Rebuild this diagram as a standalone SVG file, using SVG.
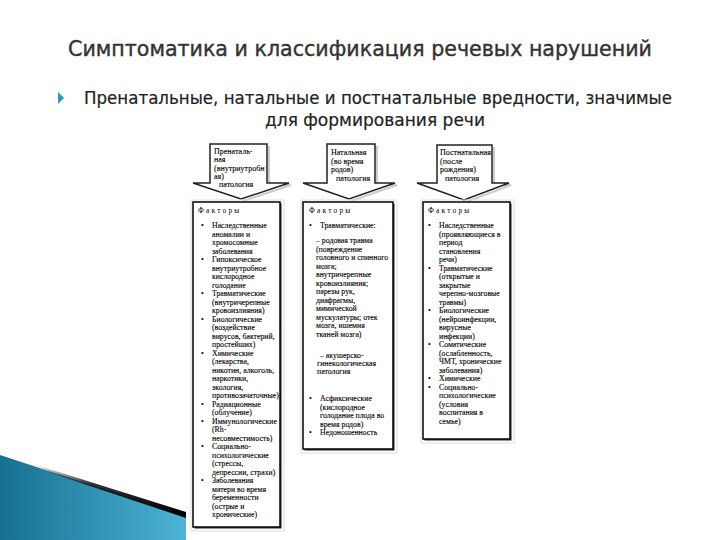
<svg xmlns="http://www.w3.org/2000/svg" width="720" height="540" viewBox="0 0 720 540">
<style>
.t{font-family:"Liberation Serif","Times New Roman",serif;font-size:7.8px;fill:#000;stroke:#000;stroke-width:0.12}
.h{font-family:"Liberation Serif","Times New Roman",serif;font-size:8px;fill:#000;stroke:#000;stroke-width:0.12}
.f{font-family:"Liberation Serif","Times New Roman",serif;font-size:7.4px;fill:#000;letter-spacing:2.2px}
.box{fill:#fff;stroke:#111;stroke-width:1.6}
.sh{fill:#222}
.halo{fill:none;stroke:#ddd;stroke-width:1}
.arr{fill:#fff;stroke:#222;stroke-width:1.5;stroke-linejoin:miter}
.arrsh{fill:none;stroke:#ccc;stroke-width:2}
</style>
<defs>
<linearGradient id="blue" x1="0" y1="0" x2="1" y2="0">
<stop offset="0" stop-color="#16708f"/>
<stop offset="1" stop-color="#4db3d6"/>
</linearGradient>
<linearGradient id="blk" x1="0" y1="0" x2="1" y2="0">
<stop offset="0" stop-color="#000" stop-opacity="0"/>
<stop offset="0.4" stop-color="#000" stop-opacity="0.8"/>
<stop offset="1" stop-color="#000"/>
</linearGradient>
</defs>
<rect width="720" height="540" fill="#fff"/>
<g id="decor">
<polygon points="0,455 186,516 186,540 0,540" fill="url(#blue)"/>
<polygon points="30,463 186,512 186,518 60,476" fill="url(#blk)"/>
</g>
<g id="title">
<text x="360" y="56" text-anchor="middle" font-family="DejaVu Sans, sans-serif" font-size="21" fill="#333" stroke="#333" stroke-width="0.4" textLength="584" lengthAdjust="spacingAndGlyphs">Симптоматика и классификация речевых нарушений</text>
</g>
<g id="subtitle">
<polygon points="58,92 64,98 58,104" fill="#2a9ab8"/>
<text x="84" y="104" font-family="DejaVu Sans, sans-serif" font-size="17" fill="#222" stroke="#222" stroke-width="0.2" textLength="588" lengthAdjust="spacingAndGlyphs">Пренатальные, натальные и постнатальные вредности, значимые</text>
<text x="375" y="126" text-anchor="middle" font-family="DejaVu Sans, sans-serif" font-size="17" fill="#222" stroke="#222" stroke-width="0.2" textLength="220" lengthAdjust="spacingAndGlyphs">для формирования речи</text>
</g>
<g id="connectors">
<path class="arrsh" d="M269,146 V185 H291 L243,201"/>
<path class="arr" d="M210,144 H267 V183 H289 L241,199 L193,183 H210 Z"/>
<path class="arrsh" d="M377,146 V185 H397 L351,201"/>
<path class="arr" d="M327,144 H375 V183 H395 L349,199 L303,183 H327 Z"/>
<path class="arrsh" d="M494,147 V185 H511 L466,202"/>
<path class="arr" d="M437,145 H492 V183 H509 L464,200 L417,183 H437 Z"/>
</g>
<g id="header1">
<text class="h"><tspan x="214" y="154">Пренаталь-</tspan><tspan x="214" y="162">ная</tspan><tspan x="214" y="170.5">(внутриутробн</tspan><tspan x="214" y="178.5">ая)</tspan><tspan x="219" y="187">патология</tspan></text>
</g>
<g id="header2">
<text class="h"><tspan x="331" y="155">Натальная</tspan><tspan x="331" y="163.5">(во время</tspan><tspan x="331" y="172">родов)</tspan><tspan x="336" y="181">патология</tspan></text>
</g>
<g id="header3">
<text class="h"><tspan x="440" y="155">Постнатальная</tspan><tspan x="440" y="163.5">(после</tspan><tspan x="440" y="172">рождения)</tspan><tspan x="445" y="181">патология</tspan></text>
</g>
<g id="box1">
<rect class="halo" x="191" y="200" width="93" height="331"/>
<rect class="sh" x="194.5" y="203.5" width="87" height="325"/>
<rect class="box" x="193" y="202" width="87" height="325"/>
<text class="f" x="198" y="213">Факторы</text>
<text class="t">
<tspan x="201" y="228">•</tspan><tspan x="212" y="228">Наследственные</tspan>
<tspan x="212" y="236.5">аномалии и</tspan>
<tspan x="212" y="245">хромосомные</tspan>
<tspan x="212" y="253.5">заболевания</tspan>
<tspan x="201" y="262">•</tspan><tspan x="212" y="262">Гипоксическое</tspan>
<tspan x="212" y="270.5">внутриутробное</tspan>
<tspan x="212" y="279">кислородное</tspan>
<tspan x="212" y="287.5">голодание</tspan>
<tspan x="201" y="296">•</tspan><tspan x="212" y="296">Травматические</tspan>
<tspan x="212" y="304.5">(внутричерепные</tspan>
<tspan x="212" y="313">кровоизлияния)</tspan>
<tspan x="201" y="321.5">•</tspan><tspan x="212" y="321.5">Биологические</tspan>
<tspan x="212" y="330">(воздействие</tspan>
<tspan x="212" y="338.5">вирусов, бактерий,</tspan>
<tspan x="212" y="347">простейших)</tspan>
<tspan x="201" y="355.5">•</tspan><tspan x="212" y="355.5">Химические</tspan>
<tspan x="212" y="364">(лекарства,</tspan>
<tspan x="212" y="372.5">никотин, алкоголь,</tspan>
<tspan x="212" y="381">наркотики,</tspan>
<tspan x="212" y="389.5">экология,</tspan>
<tspan x="212" y="398">противозачаточные)</tspan>
<tspan x="201" y="406.5">•</tspan><tspan x="212" y="406.5">Радиационные</tspan>
<tspan x="212" y="415">(облучение)</tspan>
<tspan x="201" y="423.5">•</tspan><tspan x="212" y="423.5">Иммунологические</tspan>
<tspan x="212" y="432">(Rh-</tspan>
<tspan x="212" y="440.5">несовместимость)</tspan>
<tspan x="201" y="449">•</tspan><tspan x="212" y="449">Социально-</tspan>
<tspan x="212" y="457.5">психологические</tspan>
<tspan x="212" y="466">(стрессы,</tspan>
<tspan x="212" y="474.5">депрессии, страхи)</tspan>
<tspan x="201" y="483">•</tspan><tspan x="212" y="483">Заболевания</tspan>
<tspan x="212" y="491.5">матери во время</tspan>
<tspan x="212" y="500">беременности</tspan>
<tspan x="212" y="508.5">(острые и</tspan>
<tspan x="212" y="517">хронические)</tspan>
</text>
</g>
<g id="box2">
<rect class="halo" x="301" y="200" width="96" height="253"/>
<rect class="sh" x="304.5" y="203.5" width="90" height="247"/>
<rect class="box" x="303" y="202" width="90" height="247"/>
<text class="f" x="309" y="213">Факторы</text>
<text class="t">
<tspan x="309" y="228">•</tspan><tspan x="320" y="228">Травматические:</tspan>
<tspan x="316" y="243">– родовая травма</tspan>
<tspan x="316" y="251.5">(повреждение</tspan>
<tspan x="316" y="260">головного и спинного</tspan>
<tspan x="316" y="268.5">мозга;</tspan>
<tspan x="316" y="277">внутричерепные</tspan>
<tspan x="316" y="285.5">кровоизлияния;</tspan>
<tspan x="316" y="294">парезы рук,</tspan>
<tspan x="316" y="302.5">диафрагмы,</tspan>
<tspan x="316" y="311">мимической</tspan>
<tspan x="316" y="319.5">мускулатуры; отек</tspan>
<tspan x="316" y="328">мозга, ишемия</tspan>
<tspan x="316" y="336.5">тканей мозга)</tspan>
<tspan x="320" y="358">– акушерско-</tspan>
<tspan x="317" y="366">гинекологическая</tspan>
<tspan x="317" y="374">патология</tspan>
<tspan x="309" y="401">•</tspan><tspan x="320" y="401">Асфиксические</tspan>
<tspan x="320" y="409.5">(кислородное</tspan>
<tspan x="320" y="418">голодание плода во</tspan>
<tspan x="320" y="426.5">время родов)</tspan>
<tspan x="309" y="434.5">•</tspan><tspan x="320" y="434.5">Недоношенность</tspan>
</text>
</g>
<g id="box3">
<rect class="halo" x="421" y="200" width="93" height="243"/>
<rect class="sh" x="424.5" y="203.5" width="87" height="237"/>
<rect class="box" x="423" y="202" width="87" height="237"/>
<text class="f" x="428" y="213">Факторы</text>
<text class="t">
<tspan x="428" y="228">•</tspan><tspan x="439" y="228">Наследственные</tspan>
<tspan x="439" y="236.5">(проявляющиеся в</tspan>
<tspan x="439" y="245">период</tspan>
<tspan x="439" y="253.5">становления</tspan>
<tspan x="439" y="262">речи)</tspan>
<tspan x="428" y="270.5">•</tspan><tspan x="439" y="270.5">Травматические</tspan>
<tspan x="439" y="279">(открытые и</tspan>
<tspan x="439" y="287.5">закрытые</tspan>
<tspan x="439" y="296">черепно-мозговые</tspan>
<tspan x="439" y="304.5">травмы)</tspan>
<tspan x="428" y="313">•</tspan><tspan x="439" y="313">Биологические</tspan>
<tspan x="439" y="321.5">(нейроинфекции,</tspan>
<tspan x="439" y="330">вирусные</tspan>
<tspan x="439" y="338.5">инфекции)</tspan>
<tspan x="428" y="347">•</tspan><tspan x="439" y="347">Соматические</tspan>
<tspan x="439" y="355.5">(ослабленность,</tspan>
<tspan x="439" y="364">ЧМТ, хронические</tspan>
<tspan x="439" y="372.5">заболевания)</tspan>
<tspan x="428" y="381">•</tspan><tspan x="439" y="381">Химические</tspan>
<tspan x="428" y="389.5">•</tspan><tspan x="439" y="389.5">Социально-</tspan>
<tspan x="439" y="398">психологические</tspan>
<tspan x="439" y="406.5">(условия</tspan>
<tspan x="439" y="415">воспитания в</tspan>
<tspan x="439" y="423.5">семье)</tspan>
</text>
</g>
</svg>
